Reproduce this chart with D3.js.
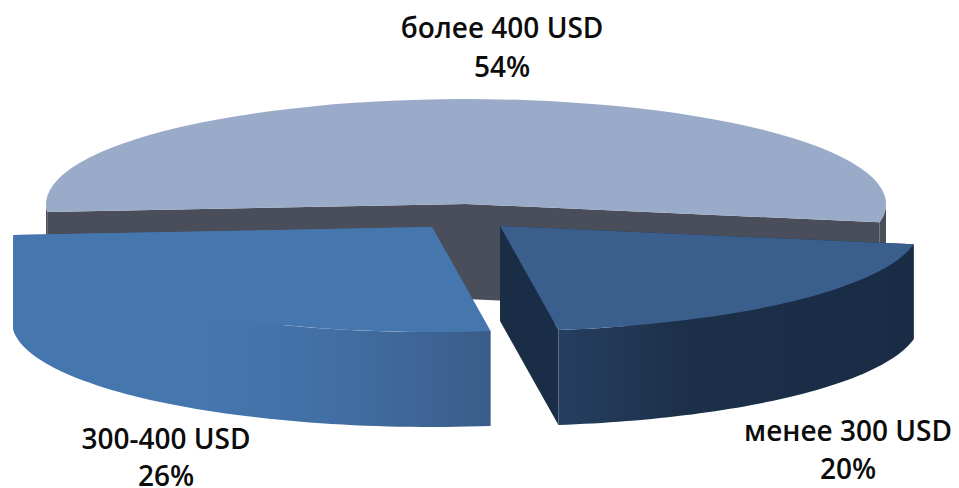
<!DOCTYPE html>
<html><head><meta charset="utf-8">
<script src="https://cdn.jsdelivr.net/npm/d3@7/dist/d3.min.js"></script>
<style>html,body{margin:0;padding:0;background:#fff}svg{display:block}text{font-family:"Open Sans","Noto Sans",sans-serif;font-weight:600;fill:#0c0c0c;text-anchor:middle}</style>
</head><body><svg id="c" width="959" height="488"></svg>
<script>
const categories=["менее 300 USD","300-400 USD","более 400 USD"];
const shares=[20,26,54];
const topColors=["#3a5f8d","#4676ae","#9aabc9"];
const wallColors=["#1a2d46","#4676ae","#4a4e5a"];
const sideStops=[
 [[0,"#263f60"],[0.35,"#1c3049"],[1,"#1a2c45"]],
 [[0,"#4676ae"],[0.4,"#4676ae"],[0.65,"#4270a5"],[1,"#3a5d8a"]],
 [[0,"#4a4e5a"],[1,"#4a4e5a"]]];
const centers=[[500,226],[432,227],[466,204]];
const labelPos=[[848,441],[166,449],[502,38]];
const labelGaps=[38,37,39];
const rx=420,ry=105,depth=95,rot=100*Math.PI/180;

const svg=d3.select("#c");
const defs=svg.append("defs");
const pie=d3.pie().sort(null).value(d=>d).startAngle(rot).endAngle(rot+2*Math.PI);
const arcs=pie(shares);
const unit=d3.arc().innerRadius(0).outerRadius(1);
const px=d=>[rx*Math.sin(d),-ry*Math.cos(d)];
const line=d3.line();
const order=[2,1,0];

order.forEach(i=>{
  const a=arcs[i],[cx,cy]=centers[i];
  const g=svg.append("g").attr("transform",`translate(${cx},${cy})`);
  [a.startAngle,a.endAngle].forEach(t=>{
    const [x,y]=px(t);
    g.append("path").attr("fill",wallColors[i])
     .attr("d",line([[0,0],[x,y],[x,y+depth],[0,depth]])+"Z");
  });
  const gradId="side"+i;
  const spans=[[Math.PI/2,3*Math.PI/2],[5*Math.PI/2,7*Math.PI/2]]
    .map(([lo,hi])=>[Math.max(a.startAngle,lo),Math.min(a.endAngle,hi)])
    .filter(([s,e])=>e>s);
  const xs=spans.flatMap(([s,e])=>d3.range(0,61).map(k=>px(s+(e-s)*k/60)[0]));
  const gr=defs.append("linearGradient").attr("id",gradId).attr("gradientUnits","userSpaceOnUse")
     .attr("x1",d3.min(xs)).attr("x2",d3.max(xs)).attr("y1",0).attr("y2",0);
  sideStops[i].forEach(s=>gr.append("stop").attr("offset",s[0]).attr("stop-color",s[1]));
  spans.forEach(([s,e])=>{
    const upper=d3.range(0,61).map(k=>px(s+(e-s)*k/60));
    const lower=upper.slice().reverse().map(p=>[p[0],p[1]+depth]);
    g.append("path").attr("fill",`url(#${gradId})`).attr("d",line(upper.concat(lower))+"Z");
  });
  g.append("path").attr("fill",topColors[i])
   .attr("transform",`scale(${rx},${ry})`)
   .attr("d",unit(a));
});

categories.forEach((c,i)=>{
  const [x,y]=labelPos[i];
  svg.append("text").attr("x",x).attr("y",y).attr("font-size",28).text(c);
  svg.append("text").attr("x",x).attr("y",y+labelGaps[i]).attr("font-size",28).text(shares[i]+"%");
});
</script></body></html>
